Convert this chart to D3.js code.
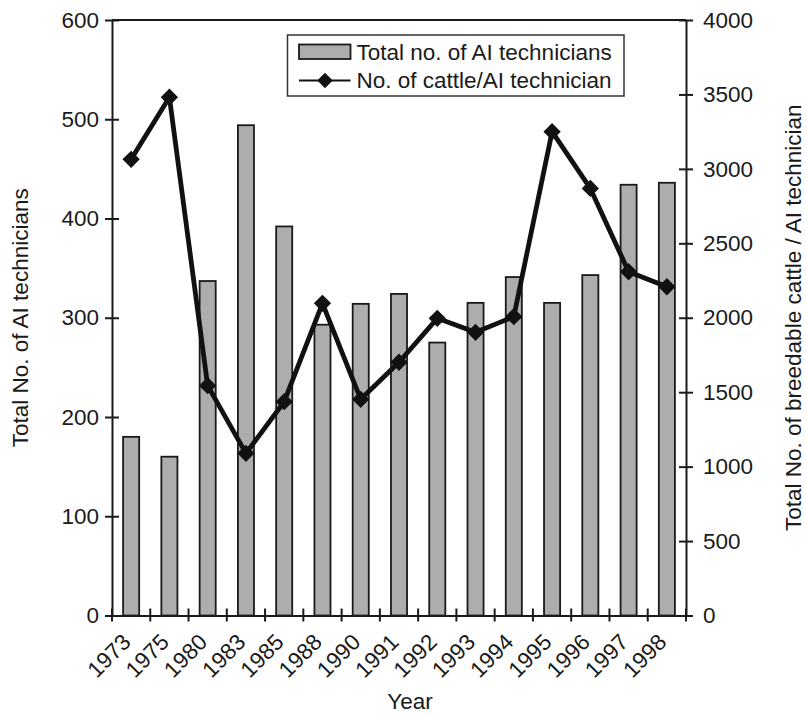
<!DOCTYPE html>
<html>
<head>
<meta charset="utf-8">
<script src="https://cdn.jsdelivr.net/npm/d3@7"></script>
<style>
  html, body { margin: 0; padding: 0; background: #fff; }
  svg { display: block; }
  text { font-family: "Liberation Sans", Arial, Helvetica, sans-serif; fill: #1a1a1a; }
</style>
</head>
<body>
<svg id="chart" width="806" height="715"></svg>
<script>
// ---- data ----
const years = ["1973","1975","1980","1983","1985","1988","1990","1991","1992","1993","1994","1995","1996","1997","1998"];
const technicians = [180,160,337,494,392,293,314,324,275,315,341,315,343,434,436];
const cattlePerTech = [3064,3481,1544,1089,1436,2097,1452,1701,1996,1902,2007,3250,2869,2309,2208];
const leftTicks = [0,100,200,300,400,500,600];
const rightTicks = [0,500,1000,1500,2000,2500,3000,3500,4000];
const seriesNames = ["Total no. of AI technicians", "No. of cattle/AI technician"];
const axisTitles = {x: "Year", yLeft: "Total No. of AI technicians", yRight: "Total No. of breedable cattle / AI technician"};

// ---- layout ----
const W = 806, H = 715;
const m = {left: 112, right: 120, top: 20, bottom: 99.5};
const FS = 22.5;
const ink = "#1a1a1a";

const svg = d3.select("#chart");

const x = d3.scaleBand().domain(years).range([m.left, W - m.right]).padding(0);
const yL = d3.scaleLinear().domain([0, 600]).range([H - m.bottom, m.top]);
const yR = d3.scaleLinear().domain([0, 4000]).range([H - m.bottom, m.top]);
const barW = x.bandwidth() * 0.42;

// bars
svg.append("g").selectAll("rect").data(years).join("rect")
  .attr("x", (d) => x(d) + x.bandwidth() / 2 - barW / 2)
  .attr("y", (d, i) => yL(technicians[i]))
  .attr("width", barW)
  .attr("height", (d, i) => yL(0) - yL(technicians[i]))
  .attr("fill", "#adadad")
  .attr("stroke", ink)
  .attr("stroke-width", 1.8);

// top border
svg.append("line")
  .attr("x1", m.left).attr("x2", W - m.right)
  .attr("y1", m.top).attr("y2", m.top)
  .attr("stroke", ink).attr("stroke-width", 2);

// left axis
const gL = svg.append("g").attr("transform", `translate(${m.left},0)`)
  .call(d3.axisLeft(yL).tickValues(leftTicks).tickFormat(d3.format("d")).tickSizeInner(7).tickSizeOuter(0).tickPadding(6));
gL.selectAll(".tick line").attr("x1", 7);
// right axis
const gR = svg.append("g").attr("transform", `translate(${W - m.right},0)`)
  .call(d3.axisRight(yR).tickValues(rightTicks).tickFormat(d3.format("d")).tickSizeInner(7).tickSizeOuter(0).tickPadding(10));
gR.selectAll(".tick line").attr("x1", -7);

[gL, gR].forEach(g => {
  g.select(".domain").attr("stroke", ink).attr("stroke-width", 2);
  g.selectAll(".tick line").attr("stroke", ink).attr("stroke-width", 2);
  g.selectAll(".tick text").style("font-size", FS + "px").attr("fill", ink)
    .style("font-family", '"Liberation Sans", Arial, sans-serif');
});

// bottom axis: line + boundary ticks
const baseY = yL(0);
const gB = svg.append("g").attr("transform", `translate(0,${baseY})`)
  .call(d3.axisBottom(x).tickSize(0).tickFormat(""));
gB.select(".domain").attr("stroke", ink).attr("stroke-width", 2);
const bounds = years.map(d => x(d)).concat([x.range()[1]]);
gB.selectAll("line.bt").data(bounds).join("line").attr("class", "bt")
  .attr("x1", d => d).attr("x2", d => d)
  .attr("y1", -7).attr("y2", 6)
  .attr("stroke", ink).attr("stroke-width", 2);
gB.selectAll("text.yl").data(years).join("text").attr("class", "yl")
  .attr("transform", d => `translate(${x(d) + x.bandwidth() / 2 + 1},${28}) rotate(-45)`)
  .attr("text-anchor", "end")
  .style("font-size", FS + "px")
  .text(d => d);

// line series
const line = d3.line()
  .x((d, i) => x(years[i]) + x.bandwidth() / 2)
  .y(d => yR(d));
svg.append("path").datum(cattlePerTech)
  .attr("d", line)
  .attr("fill", "none")
  .attr("stroke", "#111")
  .attr("stroke-width", 4.8)
  .attr("stroke-linejoin", "round");
const diamond = d3.symbol().type(d3.symbolSquare).size(150);
svg.append("g").selectAll("path").data(cattlePerTech).join("path")
  .attr("d", diamond)
  .attr("transform", (d, i) => `translate(${x(years[i]) + x.bandwidth() / 2},${yR(d)}) rotate(45)`)
  .attr("fill", "#111");

// legend
const lg = svg.append("g");
lg.append("rect").attr("x", 287.5).attr("y", 35).attr("width", 336.5).attr("height", 61)
  .attr("fill", "#fff").attr("stroke", "#333").attr("stroke-width", 1.5);
lg.append("rect").attr("x", 299).attr("y", 44.5).attr("width", 51.5).attr("height", 14.5)
  .attr("fill", "#adadad").attr("stroke", ink).attr("stroke-width", 1.8);
lg.append("line").attr("x1", 299).attr("x2", 350.5).attr("y1", 80.5).attr("y2", 80.5)
  .attr("stroke", "#111").attr("stroke-width", 2);
lg.append("path").attr("d", d3.symbol().type(d3.symbolSquare).size(120)).attr("transform", "translate(325,80.5) rotate(45)").attr("fill", "#111");
lg.selectAll("text").data(seriesNames).join("text")
  .attr("x", 356.5)
  .attr("y", (d, i) => 59.5 + i * 28)
  .style("font-size", FS + "px")
  .text(d => d);

// axis titles
svg.append("text")
  .attr("transform", `translate(28,${(m.top + baseY) / 2}) rotate(-90)`)
  .attr("text-anchor", "middle")
  .style("font-size", FS + "px")
  .text(axisTitles.yLeft);
svg.append("text")
  .attr("transform", `translate(801,${(m.top + baseY) / 2}) rotate(-90)`)
  .attr("text-anchor", "middle")
  .style("font-size", FS + "px")
  .text(axisTitles.yRight);
svg.append("text")
  .attr("x", 410).attr("y", 709)
  .attr("text-anchor", "middle")
  .style("font-size", FS + "px")
  .text(axisTitles.x);
</script>
</body>
</html>
